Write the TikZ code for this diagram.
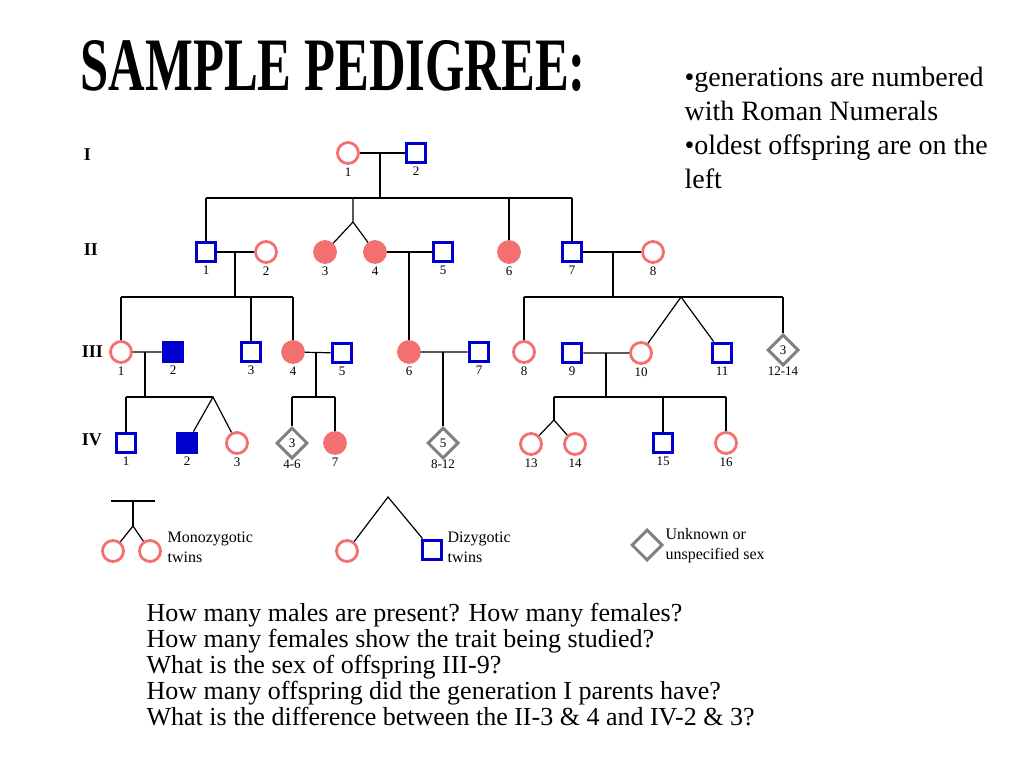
\documentclass[tikz,border=0pt]{standalone}
\usepackage{fontspec}
\usepackage{graphicx}
\setmainfont{Liberation Serif}
\usetikzlibrary{shapes.geometric}
\definecolor{femcol}{RGB}{244,112,112}
\definecolor{malcol}{RGB}{0,0,204}
\definecolor{unkcol}{RGB}{128,128,128}
\tikzset{
  fem/.style={circle,draw=femcol,line width=2.8pt,minimum size=21pt,inner sep=0pt},
  fema/.style={fem,fill=femcol},
  mal/.style={rectangle,draw=malcol,line width=3.3pt,minimum size=19.5pt,inner sep=0pt},
  mala/.style={mal,fill=malcol},
  unk/.style={diamond,draw=unkcol,line width=3pt,minimum size=31pt,inner sep=0pt,
    font=\fontsize{13}{13}\selectfont},
  gen/.style={anchor=west,font=\fontsize{18}{18}\selectfont\bfseries},
  legtext/.style={anchor=west,align=left,inner sep=0pt,font=\fontsize{16}{20}\selectfont}
}
\begin{document}
\begin{tikzpicture}[x=1pt,y=-1pt,line width=1.2pt,label distance=1pt,
  every label/.style={font=\fontsize{13}{13}\selectfont,inner sep=1pt}]
\useasboundingbox (0,0) rectangle (1024,768);

\node[anchor=south west,inner sep=0pt] (title) at (80,92)
  {\resizebox{505pt}{50pt}{\bfseries SAMPLE PEDIGREE:}};
\node[anchor=north west,align=left,inner sep=0pt,font=\fontsize{28}{34}\selectfont] (notes) at (684,66)
  {•generations are numbered\\with Roman Numerals\\•oldest offspring are on the\\left};

\node[gen] (gI) at (80,155) {I};
\node[gen] (gII) at (80,250) {II};
\node[gen] (gIII) at (78,352) {III};
\node[gen] (gIV) at (78,440) {IV};

% generation I
\node[fem,label=below:1] (I1) at (348,153) {};
\node[mal,label=below:2] (I2) at (416,153) {};
\draw (I1) -- (I2);
\coordinate (mI) at (380,153);
\coordinate (sIIa) at (206,198);
\coordinate (sIIb) at (572,198);
\draw (mI) -- (mI |- sIIa);
\draw (sIIa) -- (sIIb);

% generation II
\node[mal,label=below:1] (II1) at (206,252) {};
\node[fem,label=below:2] (II2) at (266,252) {};
\node[fema,label=below:3] (II3) at (325,252) {};
\node[fema,label=below:4] (II4) at (375,252) {};
\node[mal,label=below:5] (II5) at (443,252) {};
\node[fema,label=below:6] (II6) at (509,252) {};
\node[mal,label=below:7] (II7) at (572,252) {};
\node[fem,label=below:8] (II8) at (653,252) {};
\coordinate (tII) at (353,222);
\draw (sIIa) -- (II1);
\draw (tII |- sIIa) -- (tII) -- (II3) (tII) -- (II4);
\draw (II6 |- sIIa) -- (II6);
\draw (sIIb) -- (II7);
\draw (II1) -- (II2) (II4) -- (II5) (II7) -- (II8);
\coordinate (mII1) at (235,252);
\coordinate (mII4) at (409,252);
\coordinate (mII7) at (613,252);
\coordinate (sIIIa) at (121,297);
\coordinate (sIIIb) at (293,297);
\coordinate (sIIIc) at (524,297);
\coordinate (sIIId) at (783,297);
\coordinate (tIII) at (681,297);
\draw (mII1) -- (mII1 |- sIIIa);
\draw (mII7) -- (mII7 |- sIIIc);
\draw (sIIIa) -- (sIIIb);
\draw (sIIIc) -- (sIIId);

% generation III
\node[fem,label=below:1] (III1) at (121,352) {};
\node[mala,label=below:2] (III2) at (173,352) {};
\node[mal,label=below:3] (III3) at (251,352) {};
\node[fema,label=below:4] (III4) at (293,352) {};
\node[mal,label=below:5] (III5) at (342,353) {};
\node[fema,label=below:6] (III6) at (409,352) {};
\node[mal,label=below:7] (III7) at (479,352) {};
\node[fem,label=below:8] (III8) at (524,352) {};
\node[mal,label=below:9] (III9) at (572,353) {};
\node[fem,label=below:10] (III10) at (641,353) {};
\node[mal,label=below:11] (III11) at (722,353) {};
\node[unk,label={[label distance=-2pt]below:12-14}] (III12) at (783,350) {3};
\draw (sIIIa) -- (III1);
\draw (III3 |- sIIIa) -- (III3);
\draw (sIIIb) -- (III4);
\draw (mII4) -- (III6);
\draw (sIIIc) -- (III8);
\draw (III10) -- (tIII) -- (III11);
\draw (sIIId) -- (III12);
\draw (III1) -- (III2) (III4) -- (III5) (III6) -- (III7) (III9) -- (III10);
\coordinate (mIII1) at (145,352);
\coordinate (mIII4) at (316,352);
\coordinate (mIII6) at (443,352);
\coordinate (mIII9) at (606,353);
\coordinate (sIVa) at (126,397);
\coordinate (sIVb) at (213,397);
\coordinate (sIVc) at (292,397);
\coordinate (sIVd) at (335,397);
\coordinate (sIVe) at (554,397);
\coordinate (sIVf) at (726,397);
\coordinate (tIV) at (554,420);
\draw (mIII1) -- (mIII1 |- sIVa);
\draw (mIII4) -- (mIII4 |- sIVc);
\draw (mIII9) -- (mIII9 |- sIVe);
\draw (sIVa) -- (sIVb);
\draw (sIVc) -- (sIVd);
\draw (sIVe) -- (sIVf);

% generation IV
\node[mal,label=below:1] (IV1) at (126,443) {};
\node[mala,label=below:2] (IV2) at (187,443) {};
\node[fem,label=below:3] (IV3) at (237,443) {};
\node[unk,label={[label distance=-2pt]below:4-6}] (IV4) at (292,443) {3};
\node[fema,label=below:7] (IV7) at (335,443) {};
\node[unk,label={[label distance=-2pt]below:8-12}] (IV8) at (443,443) {5};
\node[fem,label=below:13] (IV13) at (531,444) {};
\node[fem,label=below:14] (IV14) at (575,444) {};
\node[mal,label=below:15] (IV15) at (663,443) {};
\node[fem,label=below:16] (IV16) at (726,443) {};
\draw (sIVa) -- (IV1);
\draw (IV2) -- (sIVb) -- (IV3);
\draw (sIVc) -- (IV4);
\draw (sIVd) -- (IV7);
\draw (mIII6) -- (IV8);
\draw (sIVe) -- (tIV);
\draw (IV13) -- (tIV) -- (IV14);
\draw (IV15 |- sIVe) -- (IV15);
\draw (sIVf) -- (IV16);

% legend
\node[fem] (L1) at (113,551) {};
\node[fem] (L2) at (150,551) {};
\coordinate (lma) at (111,501);
\coordinate (lmb) at (155,501);
\coordinate (lmt) at (133,526);
\draw (lma) -- (lmb);
\draw (lmt |- lma) -- (lmt);
\draw (L1) -- (lmt) -- (L2);
\node[legtext] (lmono) at (167,547) {Monozygotic\\twins};
\node[fem] (L3) at (347,551) {};
\node[mal] (L4) at (432,550) {};
\coordinate (ldt) at (388,497);
\draw (L3) -- (ldt) -- (L4);
\node[legtext] (ldi) at (447,547) {Dizygotic\\twins};
\node[unk] (L5) at (647,545) {};
\node[legtext] (lunk) at (665,546) {Unknown or\\unspecified sex};

\node[anchor=north west,align=left,inner sep=0pt,font=\fontsize{26}{26}\selectfont] (quest) at (146,603)
  {How many males are present? How many females?\\
   How many females show the trait being studied?\\
   What is the sex of offspring III-9?\\
   How many offspring did the generation I parents have?\\
   What is the difference between the II-3 \& 4 and IV-2 \& 3?};
\end{tikzpicture}
\end{document}
